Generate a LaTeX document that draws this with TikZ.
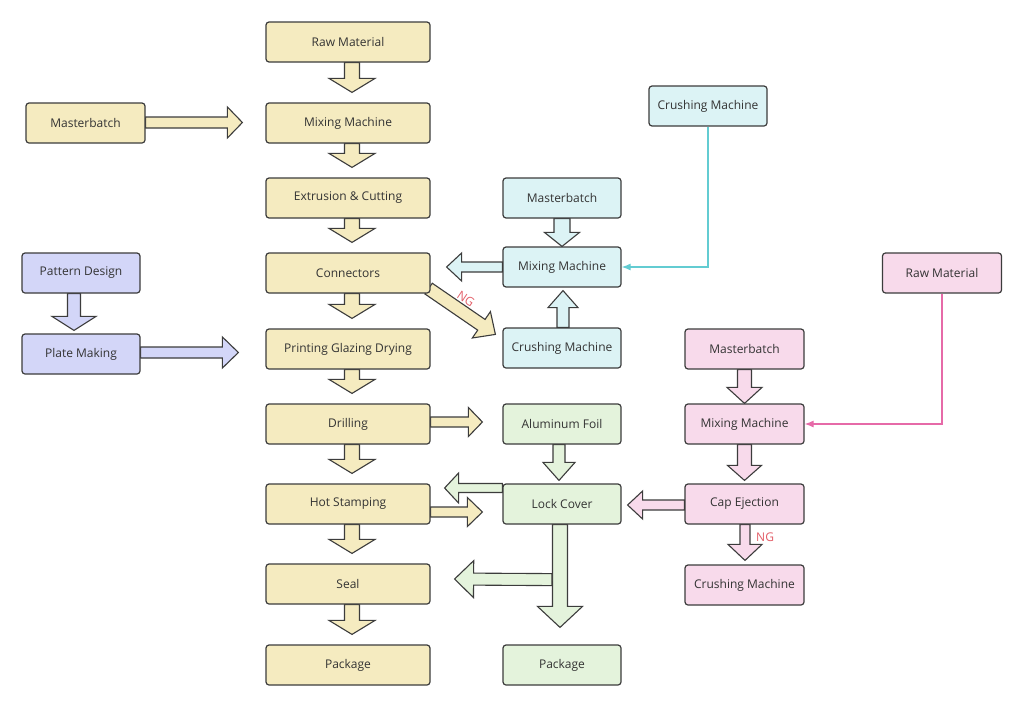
\documentclass[tikz,border=0pt]{standalone}
\usepackage{fontspec}
\setmainfont{Open Sans}
\usetikzlibrary{calc,arrows.meta}
\definecolor{cyel}{HTML}{F5EBC0}
\definecolor{cblue}{HTML}{D3D6F8}
\definecolor{ccyan}{HTML}{DCF3F5}
\definecolor{cgreen}{HTML}{E4F3DC}
\definecolor{cpink}{HTML}{F8DAEB}
\definecolor{cborder}{HTML}{3C3C3C}
\definecolor{ctext}{HTML}{333333}
\definecolor{clinecyan}{HTML}{63CCD2}
\definecolor{clinepink}{HTML}{E66AA8}
\definecolor{cng}{HTML}{E35D67}
\pgfdeclarelayer{bg}
\pgfdeclarelayer{paper}
\pgfsetlayers{paper,bg,main}
\tikzset{
  box/.style={draw=cborder, line width=1.2pt, rounded corners=3pt, minimum height=40pt,
    minimum width=118pt, text=ctext, font=\fontsize{12}{14}\selectfont, inner sep=0pt},
  mainbox/.style={box, fill=cyel, minimum width=164pt},
  yelbox/.style={box, fill=cyel},
  bluebox/.style={box, fill=cblue},
  cyanbox/.style={box, fill=ccyan},
  greenbox/.style={box, fill=cgreen},
  pinkbox/.style={box, fill=cpink},
  blockarrow/.style={draw=cborder, line width=1.1pt, line join=miter},
  thinline/.style={line width=1.2pt, -{Latex[length=9pt,width=7pt]}},
  nglabel/.style={text=cng, font=\fontsize{12}{14}\selectfont, inner sep=0pt}
}
% #1 fill, #2 from, #3 to, #4 shaft half width, #5 head half width, #6 head length
\newcommand{\barrow}[6]{%
  \coordinate (ba-s) at (#2);
  \coordinate (ba-t) at (#3);
  \coordinate (ba-h) at ($(ba-t)!#6pt!(ba-s)$);
  \filldraw[blockarrow, fill=#1] ($(ba-s)!#4pt!90:(ba-t)$) -- ($(ba-h)!#4pt!-90:(ba-s)$)
    -- ($(ba-h)!#5pt!-90:(ba-s)$) -- (ba-t) -- ($(ba-h)!#5pt!90:(ba-s)$)
    -- ($(ba-h)!#4pt!90:(ba-s)$) -- ($(ba-s)!#4pt!-90:(ba-t)$) -- cycle;}
\begin{document}
\begin{tikzpicture}[x=1pt,y=-1pt]
\useasboundingbox (0,0) rectangle (1024,707);
\begin{pgfonlayer}{paper}
\fill[white] (0,0) rectangle (1024,707);
\end{pgfonlayer}
% main column
\node[mainbox] (raw) at (348,42) {Raw Material};
\node[mainbox] (mix1) at (348,123) {Mixing Machine};
\node[mainbox] (ext) at (348,198) {Extrusion \& Cutting};
\node[mainbox] (conn) at (348,273) {Connectors};
\node[mainbox] (print) at (348,349) {Printing Glazing Drying};
\node[mainbox] (drill) at (348,424) {Drilling};
\node[mainbox] (hot) at (348,504) {Hot Stamping};
\node[mainbox] (seal) at (348,584) {Seal};
\node[mainbox] (pkg1) at (348,665) {Package};
% left
\node[yelbox, minimum width=119pt] (mb1) at (85.5,123) {Masterbatch};
\node[bluebox] (pd) at (81,273) {Pattern Design};
\node[bluebox] (pm) at (81,354) {Plate Making};
% cyan
\node[cyanbox] (crush1) at (708,106) {Crushing Machine};
\node[cyanbox] (mb2) at (562,198) {Masterbatch};
\node[cyanbox] (mix2) at (562,267) {Mixing Machine};
\node[cyanbox] (crush2) at (562,348) {Crushing Machine};
% green
\node[greenbox] (alu) at (562,424) {Aluminum Foil};
\node[greenbox] (lock) at (562,504) {Lock Cover};
\node[greenbox] (pkg2) at (562,665) {Package};
% pink
\node[pinkbox, minimum width=119pt] (raw2) at (942,273) {Raw Material};
\node[pinkbox, minimum width=119pt] (mb3) at (744.5,349) {Masterbatch};
\node[pinkbox, minimum width=119pt] (mix3) at (744.5,424) {Mixing Machine};
\node[pinkbox, minimum width=119pt] (cap) at (744.5,504) {Cap Ejection};
\node[pinkbox, minimum width=119pt] (crush3) at (744.5,585) {Crushing Machine};

\begin{pgfonlayer}{bg}
% main column
\barrow{cyel}{$(raw.south)+(4,0)$}{$(mix1.north)+(4,-10)$}{7.5}{23}{14}
\barrow{cyel}{$(mix1.south)+(4,0)$}{$(ext.north)+(4,-10)$}{7.5}{23}{14}
\barrow{cyel}{$(ext.south)+(4,0)$}{$(conn.north)+(4,-10)$}{7.5}{23}{14}
\barrow{cyel}{$(conn.south)+(4,0)$}{$(print.north)+(4,-10)$}{7.5}{23}{14}
\barrow{cyel}{$(print.south)+(4,0)$}{$(drill.north)+(4,-10)$}{7.5}{23}{14}
\barrow{cyel}{$(drill.south)+(4,0)$}{$(hot.north)+(4,-10)$}{7.5}{23}{14}
\barrow{cyel}{$(hot.south)+(4,0)$}{$(seal.north)+(4,-10)$}{7.5}{23}{14}
\barrow{cyel}{$(seal.south)+(4,0)$}{$(pkg1.north)+(4,-10)$}{7.5}{23}{14}
% left
\barrow{cyel}{$(mb1.east)+(0,-0.5)$}{$(mix1.west)+(-23,-0.5)$}{5.5}{15.5}{15}
\barrow{cblue}{$(pd.south)+(-7,0)$}{$(pm.north)+(-7,-3)$}{6.5}{22}{14}
\barrow{cblue}{$(pm.east)+(0,-1.5)$}{$(print.west)+(-27,3.5)$}{5.5}{15.5}{16}
% cyan
\barrow{ccyan}{mb2.south}{mix2.north}{8}{17.5}{14}
\barrow{ccyan}{$(crush2.north)+(1,0)$}{$(mix2.south)+(1,3)$}{6}{15}{17}
\barrow{ccyan}{mix2.west}{$(conn.east)+(16,-6)$}{5}{14}{15}
\barrow{cyel}{$(conn.south east)+(-2,-5)$}{$(crush2.north west)+(-7,7)$}{6.5}{16}{17}
% green
\barrow{cyel}{$(drill.east)+(0,-2)$}{$(alu.west)+(-20,-2)$}{5}{14.5}{14}
\barrow{cgreen}{$(alu.south)+(-3,0)$}{$(lock.north)+(-3,-3)$}{6}{16}{18}
\barrow{cgreen}{$(lock.west)+(0,-16)$}{$(hot.east)+(14,-16)$}{4.5}{15}{14}
\barrow{cyel}{$(hot.east)+(0,8)$}{$(lock.west)+(-20,8)$}{5}{14.5}{15}
\barrow{cgreen}{$(lock.south)+(-2,0)$}{$(pkg2.north)+(-2,-17)$}{7.5}{22.5}{21}
\barrow{cgreen}{$(lock.south)+(-10,55)$}{$(seal.east)+(24,-5)$}{6}{18.5}{19}
% pink
\barrow{cpink}{mb3.south}{mix3.north}{7}{17.5}{16}
\barrow{cpink}{mix3.south}{$(cap.north)+(0,-3)$}{7}{17}{15}
\barrow{cpink}{$(cap.south)+(0.5,0)$}{$(crush3.north)+(0.5,-4)$}{5}{17}{16}
\barrow{cpink}{$(cap.west)+(0,1)$}{$(lock.east)+(6,1)$}{5}{14}{15}
\end{pgfonlayer}

% thin connectors
\draw[thinline, clinecyan] (crush1.south) |- (mix2.east);
\draw[thinline, clinepink] (raw2.south) |- (mix3.east);

% NG labels
\node[nglabel, rotate=-34] (ng1) at (466,299) {NG};
\node[nglabel, anchor=west] (ng2) at (756,537) {NG};
\end{tikzpicture}
\end{document}
